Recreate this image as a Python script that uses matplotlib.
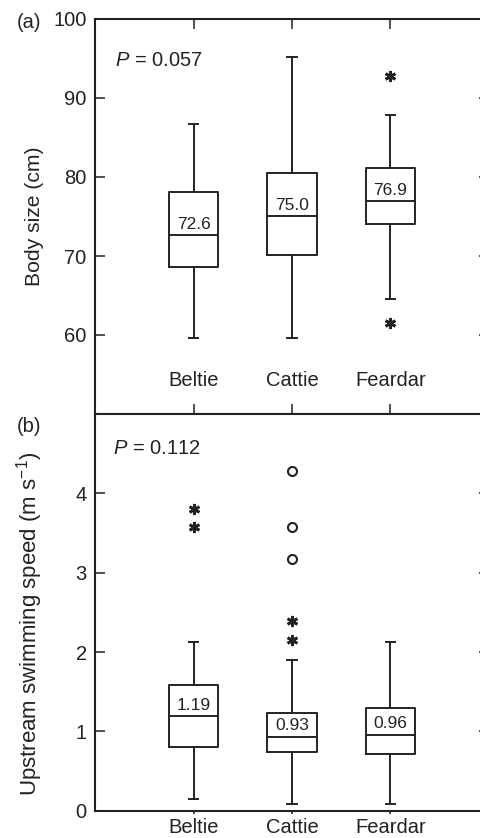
import numpy as np
import matplotlib
matplotlib.use("Agg")
from matplotlib import pyplot as plt

plt.rcParams['font.family'] = ['Liberation Sans', 'DejaVu Sans']
plt.rcParams['mathtext.fontset'] = 'custom'
plt.rcParams['mathtext.rm'] = 'Liberation Sans'
plt.rcParams['mathtext.it'] = 'Liberation Sans:italic'

INK = '#222222'

# data
groups = ["Beltie", "Cattie", "Feardar"]

size_med = [72.6, 75.0, 76.9]
size_q1 = [68.6, 70.1, 74.1]
size_q3 = [78.1, 80.5, 81.1]
size_lo = [59.6, 59.6, 64.5]
size_hi = [86.7, 95.2, 87.9]
size_stars = [[], [], [92.8, 61.5]]
size_circles = [[], [], []]
size_p = "0.057"

speed_med = [1.19, 0.93, 0.96]
speed_q1 = [0.80, 0.74, 0.72]
speed_q3 = [1.59, 1.23, 1.30]
speed_lo = [0.15, 0.09, 0.09]
speed_hi = [2.13, 1.90, 2.13]
speed_stars = [[3.80, 3.57], [2.39, 2.15], []]
speed_circles = [[], [4.28, 3.57, 3.17], []]
speed_p = "0.112"

positions = [1, 2, 3]


def make_stats(med, q1, q3, lo, hi):
    stats = []
    for i in range(len(med)):
        stats.append(dict(med=med[i], q1=q1[i], q3=q3[i], whislo=lo[i], whishi=hi[i], fliers=[]))
    return stats


def draw_panel(ax, med, q1, q3, lo, hi, stars, circles, fmt):
    lp = dict(color=INK, linewidth=1.4)
    ax.bxp(make_stats(med, q1, q3, lo, hi), positions=positions, widths=0.5, capwidths=0.1,
           showfliers=False, boxprops=lp, whiskerprops=lp, capprops=lp, medianprops=lp,
           manage_ticks=False)
    for i in range(len(positions)):
        if len(stars[i]) > 0:
            ax.plot([positions[i]] * len(stars[i]), stars[i], linestyle='none', marker=(6, 2, 0),
                    markersize=8, markeredgewidth=2.0, color=INK)
        if len(circles[i]) > 0:
            ax.plot([positions[i]] * len(circles[i]), circles[i], linestyle='none', marker='o',
                    markersize=6.5, markeredgewidth=1.5, markerfacecolor='white', markeredgecolor=INK)
        # median value written just above the median line
        ax.annotate(fmt % med[i], xy=(positions[i], med[i]), xytext=(0, 8), textcoords='offset points',
                    ha='center', va='center', fontsize=12.5, color=INK)
    for s in ax.spines.values():
        s.set_linewidth(1.5)
        s.set_color(INK)
    ax.set_xlim(0, 4)


fig = plt.figure(figsize=(4.81, 8.38), dpi=100)
ax1 = fig.add_axes([95 / 481, 1 - 414 / 838, 394 / 481, 395 / 838])
ax2 = fig.add_axes([95 / 481, 1 - 810.7 / 838, 394 / 481, 396.7 / 838])

# (a) body size
draw_panel(ax1, size_med, size_q1, size_q3, size_lo, size_hi, size_stars, size_circles, "%.1f")
ax1.set_ylim(50, 100)
ax1.set_yticks([60, 70, 80, 90, 100])
ax1.set_xticks(positions)
ax1.tick_params(direction='in', length=7.5, width=1.1, color=INK, labelcolor=INK, labelsize=14.5,
                top=True, right=True, bottom=True, labelbottom=False, pad=6)
for i in range(len(groups)):
    ax1.text(positions[i], 54.3, groups[i], ha='center', va='center', fontsize=14.5, color=INK)
ax1.text(0.05, 0.896, r"$P$ = " + size_p, transform=ax1.transAxes, ha='left', va='center',
         fontsize=14.5, color=INK)
ax1.set_ylabel("Body size (cm)", fontsize=15.2, color=INK)
ax1.yaxis.set_label_coords(-0.13, 0.5)

# (b) swimming speed
draw_panel(ax2, speed_med, speed_q1, speed_q3, speed_lo, speed_hi, speed_stars, speed_circles, "%.2f")
ax2.set_ylim(0, 5)
ax2.set_yticks([0, 1, 2, 3, 4])
ax2.set_xticks(positions)
ax2.set_xticklabels(groups)
ax2.tick_params(axis='y', direction='in', length=7.5, width=1.1, color=INK, labelcolor=INK,
                labelsize=14.5, right=True, pad=6)
ax2.tick_params(axis='x', direction='out', length=2.5, width=1.1, color=INK, labelcolor=INK,
                labelsize=14.5, top=False, pad=3)
ax2.text(0.045, 0.912, r"$P$ = " + speed_p, transform=ax2.transAxes, ha='left', va='center',
         fontsize=14.5, color=INK)
ax2.set_ylabel(r"Upstream swimming speed (m s$^{-1}$)", fontsize=16, color=INK)
ax2.yaxis.set_label_coords(-0.127, 0.47)

fig.text(17 / 481, 1 - 22 / 838, "(a)", ha='left', va='center', fontsize=14.5, color=INK)
fig.text(17 / 481, 1 - 426 / 838, "(b)", ha='left', va='center', fontsize=14.5, color=INK)

fig.savefig("out.png", dpi=100)
